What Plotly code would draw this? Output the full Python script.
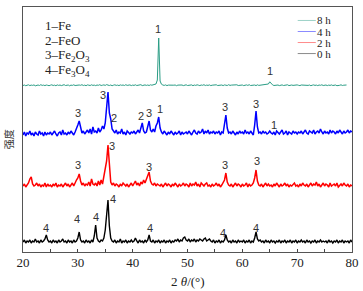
import plotly.graph_objects as go

# 2-theta sampling grid (degrees), 0.25 deg step from 20 to 80
two_theta = [20 + 0.25 * i for i in range(241)]

# Intensities above each pattern's own baseline (arbitrary units)
i_8h = [
    0.5,1.0,0.3,0.8,1.2,0.4,0.9,0.6,1.1,0.2,0.7,1.0,0.5,1.3,0.6,0.9,0.4,1.0,0.7,0.3,
    0.8,1.2,0.5,0.9,0.3,1.1,0.6,1.0,0.4,0.8,1.3,0.5,0.7,1.0,0.2,0.9,0.6,1.2,0.5,0.8,
    0.4,1.0,0.7,1.3,0.5,0.9,0.3,1.1,0.8,0.5,1.2,0.6,0.9,0.4,1.0,0.7,1.3,0.5,0.8,1.1,
    0.6,1.4,0.9,0.5,1.0,0.3,0.8,1.2,0.6,0.9,0.4,1.1,0.7,1.0,0.5,1.3,0.6,0.8,1.1,0.4,
    0.9,0.6,1.2,0.5,1.0,0.8,1.3,0.4,0.9,1.1,0.6,1.0,0.5,1.2,0.8,1.0,1.5,2.0,6.0,48.0,
    5.0,1.8,1.0,0.6,1.1,0.4,0.9,0.7,1.2,0.5,0.8,1.0,0.3,0.9,1.1,0.6,1.0,0.4,0.8,1.2,
    0.5,0.9,0.7,1.1,0.3,1.0,0.6,1.2,0.8,0.4,1.0,0.7,1.3,0.5,0.9,0.6,1.1,0.4,0.8,1.0,
    0.6,1.2,0.5,0.9,0.7,1.0,0.4,1.1,0.8,0.5,1.3,0.6,0.9,1.0,0.4,0.8,1.2,0.5,0.9,0.7,
    1.0,0.4,0.8,1.1,0.6,1.3,0.5,0.9,0.7,1.0,0.4,1.2,0.6,0.8,1.0,0.5,0.9,1.1,1.6,2.0,
    4.2,2.0,1.2,0.5,0.9,0.6,1.0,0.4,0.8,1.1,0.5,0.9,0.7,1.2,0.4,0.8,1.0,0.6,0.9,0.5,
    1.1,0.7,0.4,1.0,0.8,1.2,0.5,0.9,0.6,1.0,0.3,0.8,1.1,0.6,0.9,0.4,1.0,0.7,1.2,0.5,
    0.8,1.0,0.4,0.9,0.6,1.1,0.5,0.8,1.0,0.3,0.9,0.7,1.2,0.5,0.8,0.6,1.0,None,None,None,
    None,
]
i_4h = [
    2,5,1,4,3,6,2,4,1,5,3,2,6,3,4,1,5,2,4,3,
    5,2,4,6,3,1,4,5,2,7,3,4,2,5,3,6,4,2,5,8,
    12,16,9,4,6,3,5,7,4,8,3,10,5,6,4,9,5,7,11,8,
    14,30,45,24,18,8,6,4,7,3,5,4,8,3,5,2,6,4,3,5,
    4,6,3,5,7,4,10,14,6,4,5,12,16,7,5,8,5,11,14,20,
    9,5,3,6,4,2,5,3,6,4,2,5,3,4,6,2,5,3,4,5,
    3,6,4,2,5,7,4,3,6,4,5,8,3,6,4,7,3,5,4,6,
    3,5,4,6,2,5,4,12,22,9,4,5,3,6,4,2,5,3,6,4,
    5,3,7,4,5,3,6,4,2,12,26,10,4,5,3,6,4,5,3,4,
    6,4,3,5,2,6,4,3,5,7,3,4,6,2,5,4,3,6,4,5,
    3,5,4,6,3,5,7,4,3,6,5,4,7,3,5,6,4,8,5,3,
    6,4,5,3,7,4,6,5,3,6,4,7,5,3,6,4,5,7,4,6,
    5,
]
i_2h = [
    3,5,2,4,6,10,12,5,3,4,6,3,5,2,4,3,6,2,5,3,
    4,2,5,3,6,2,4,3,5,2,4,6,3,5,2,4,6,3,7,9,
    11,15,8,4,6,3,5,4,7,3,10,5,4,6,3,8,4,9,5,12,
    18,28,44,20,7,4,6,3,5,4,2,5,3,6,4,3,5,2,4,6,
    3,5,8,4,6,3,7,5,9,6,10,12,17,8,5,4,6,3,5,4,
    3,5,2,4,6,3,5,4,2,5,3,6,4,2,5,3,4,6,3,5,
    4,2,6,3,5,4,7,3,5,2,6,4,3,5,6,3,4,2,5,3,
    4,6,3,5,2,4,6,9,16,7,4,3,5,2,4,6,3,5,4,2,
    5,3,4,6,2,5,3,4,6,11,19,8,4,3,5,2,4,6,3,5,
    3,4,2,5,3,6,4,2,5,3,4,6,3,5,2,4,3,5,6,3,
    4,2,5,3,6,4,3,5,2,4,6,3,5,4,7,3,5,2,4,6,
    3,5,4,2,6,3,4,5,3,6,2,4,5,3,6,4,3,5,2,4,
    3,
]
i_0h = [
    2,4,1,3,2,4,1,3,2,5,2,3,1,4,2,3,5,9,4,2,
    3,1,4,2,3,1,4,2,3,5,2,3,1,4,2,3,1,4,2,3,
    6,12,4,2,3,1,4,2,3,1,4,2,8,19,6,3,2,4,3,6,
    14,28,44,18,6,3,2,4,1,3,2,5,1,3,2,4,1,3,2,4,
    2,3,6,3,1,4,2,3,1,4,2,4,9,3,2,4,1,3,2,4,
    1,3,2,4,1,3,2,4,1,3,2,4,3,5,2,4,3,6,7,4,
    3,5,2,4,3,5,2,4,3,5,4,3,5,6,3,4,5,3,2,4,
    1,3,2,4,1,3,2,4,9,4,2,3,1,4,2,3,1,4,2,3,
    2,4,1,3,2,4,1,3,2,6,12,5,3,4,2,3,1,4,2,3,
    1,4,2,3,1,3,2,4,1,3,2,4,1,3,2,4,1,3,2,4,
    1,3,2,4,2,3,1,4,2,3,1,3,2,4,1,3,2,4,2,3,
    2,3,1,4,2,3,1,3,2,4,1,3,2,4,1,3,2,3,1,4,
    2,
]

series_names = ["8 h", "4 h", "2 h", "0 h"]
series_values = [i_8h, i_4h, i_2h, i_0h]
series_offsets = [166, 115, 63, 8]
series_colors = ["#2a9d85", "#0000ff", "#ff0000", "#000000"]
series_widths = [1.0, 1.5, 1.5, 1.4]

# Phase labels: (2theta, height above offset, text, series index)
peak_labels = [
    (44.7, 57, "1", 0), (65.0, 15, "1", 0),
    (30.0, 24, "3", 1), (34.6, 42, "3", 1), (36.6, 19, "2", 1),
    (41.6, 21, "2", 1), (42.9, 24, "3", 1), (45.0, 28, "1", 1),
    (56.8, 30, "3", 1), (62.5, 33, "3", 1), (65.8, 12, "1", 1),
    (30.0, 24, "3", 2), (36.3, 43, "3", 2), (43.0, 22, "3", 2),
    (56.8, 24, "3", 2), (62.6, 28, "3", 2),
    (24.2, 16, "4", 3), (29.9, 25, "4", 3), (33.3, 27, "4", 3),
    (36.4, 45, "4", 3), (43.2, 16, "4", 3), (56.5, 11, "4", 3), (62.5, 16, "4", 3),
]
phase_legend = ["1–Fe", "2–FeO", "3–Fe<sub>2</sub>O<sub>3</sub>", "4–Fe<sub>3</sub>O<sub>4</sub>"]
x_ticks = [20, 30, 40, 50, 60, 70, 80]

SERIF = "Liberation Serif, Times New Roman, serif"

fig = go.Figure()
for name, vals, off, col, w in zip(series_names, series_values, series_offsets,
                                   series_colors, series_widths):
    fig.add_trace(go.Scatter(
        x=two_theta,
        y=[None if v is None else v + off for v in vals],
        mode="lines", name=name, line=dict(color=col, width=w),
        showlegend=False,
    ))

for x, h, t, s in peak_labels:
    fig.add_annotation(x=x, y=h + series_offsets[s], text=t, showarrow=False,
                       font=dict(family="Liberation Sans, Arial", size=11, color="#333333"))

# phase key (top-left)
for k, t in enumerate(phase_legend):
    fig.add_annotation(xref="paper", yref="paper", x=0.06, y=0.925 - k * 0.062,
                       xanchor="left", yanchor="middle", text=t, showarrow=False,
                       font=dict(family=SERIF, size=13, color="#222222"))

# time key (top-right)
for k, (name, col) in enumerate(zip(series_names, series_colors)):
    yk = 0.945 - k * 0.045
    fig.add_shape(type="line", xref="paper", yref="paper",
                  x0=0.835, x1=0.89, y0=yk, y1=yk,
                  line=dict(color=col, width=1), opacity=0.45)
    fig.add_annotation(xref="paper", yref="paper", x=0.888, y=yk,
                       xanchor="left", yanchor="middle", text=name, showarrow=False,
                       font=dict(family=SERIF, size=11, color="#222222"))

# axis titles
fig.add_annotation(xref="paper", yref="paper", x=0.5, y=0, yshift=-20,
                   xanchor="center", yanchor="top", text="2 <i>θ</i>/(°)",
                   showarrow=False, font=dict(family=SERIF, size=13, color="#222"))
fig.add_annotation(xref="paper", yref="paper", x=0, y=0.46, xshift=-15,
                   xanchor="center", yanchor="middle", text="强度", textangle=-90,
                   showarrow=False, font=dict(family="Noto Sans CJK SC", size=10, color="#333"))

fig.update_layout(
    width=363, height=291,
    margin=dict(l=23, r=11, t=7, b=39, autoexpand=False),
    paper_bgcolor="white", plot_bgcolor="white",
    showlegend=False,
    xaxis=dict(range=[20, 80], tickvals=x_ticks, automargin=False,
               ticks="inside", ticklen=3, tickcolor="#444",
               minor=dict(dtick=5, ticks="inside", ticklen=3, tickcolor="#444"),
               showgrid=False, zeroline=False,
               showline=True, mirror=True, linecolor="#555", linewidth=1,
               ticklabelstandoff=-2,
               tickfont=dict(family=SERIF, size=13, color="#222")),
    yaxis=dict(range=[0, 245], showticklabels=False, ticks="", automargin=False,
               showgrid=False, zeroline=False,
               showline=True, mirror=True, linecolor="#555", linewidth=1),
)

fig.write_html("out.html", config={"displayModeBar": False},
               post_script="document.body.style.margin='0';")
